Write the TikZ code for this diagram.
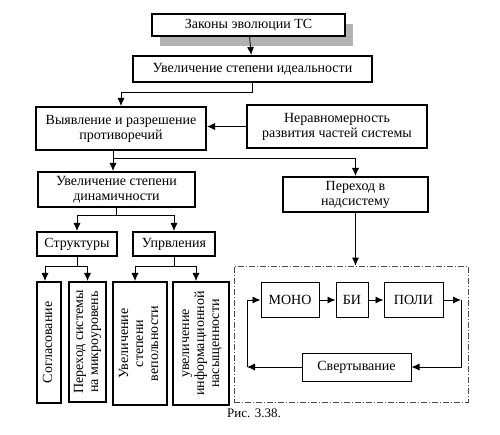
\documentclass[tikz,border=0pt]{standalone}
\usepackage{fontspec}
\setmainfont{Liberation Serif}
\usetikzlibrary{arrows.meta, positioning, shadows}

\newcommand{\vtext}[1]{\rotatebox{90}{\begin{tabular}{@{}c@{}}#1\end{tabular}}}

\begin{document}
\begin{tikzpicture}[
  x=1pt, y=-1pt,
  >={Latex[length=8pt,width=7pt]},
  font=\fontsize{14}{15}\selectfont,
  every path/.style={line width=0.8pt},
  block/.style={
    rectangle, draw, line width=2pt, fill=white,
    align=center, inner sep=1pt,
    drop shadow={shadow xshift=1.2pt, shadow yshift=-1.2pt, fill=black, opacity=1}
  },
  topbox/.style={
    block,
    drop shadow={shadow xshift=8pt, shadow yshift=-10pt, fill=gray!60, opacity=1}
  },
  vbox/.style={block, inner sep=0pt},
  stage/.style={rectangle, draw, line width=1pt, align=center,
    minimum height=34pt},
  frame/.style={draw=black!70, line width=0.6pt,
    dash pattern=on 6pt off 2pt on 1pt off 2pt},
]

\useasboundingbox (0,0) rectangle (500,435);

% --- Top chain ---
\node[topbox, minimum width=193pt, minimum height=22pt] (LAW) at (248.5,25) {Законы эволюции ТС};
\node[block, minimum width=239pt, minimum height=26pt] (IDEAL) at (252.5,69) {Увеличение степени идеальности};

% --- Contradictions ---
\node[block, minimum width=170pt, minimum height=43pt] (CONTRA) at (121,128.5) {Выявление и разрешение\\ противоречий};
\node[block, minimum width=180pt, minimum height=43pt] (UNEVEN) at (337,126.5) {Неравномерность\\ развития частей системы};

% --- Second level ---
\node[block, minimum width=157pt, minimum height=35pt] (DYN) at (116.5,189.5) {Увеличение степени\\ динамичности};
\node[block, minimum width=145pt, minimum height=35pt] (SUPER) at (355.5,194.5) {Переход в\\ надсистему};

\node[block, minimum width=80pt, minimum height=24pt] (STRUCT) at (77,244) {Структуры};
\node[block, minimum width=82pt, minimum height=24pt] (CTRL) at (174,244) {Упрвления};

% --- Vertical boxes ---
\node[vbox, minimum width=24pt, minimum height=121pt] (AGREE) at (49,342.5) {\vtext{Согласование}};
\node[vbox, minimum width=37pt, minimum height=120pt] (MICRO) at (87.5,342) {\vtext{Переход системы\\ на микроуровень}};
\node[vbox, minimum width=54pt, minimum height=123pt] (VEPOL) at (140,343.5) {\vtext{Увеличение\\ степени\\ вепольности}};
\node[vbox, minimum width=56pt, minimum height=123pt] (INFO) at (201,343.5) {\vtext{увеличение\\ информационной\\ насыщенности}};

% --- Mono-bi-poly frame ---
\node[frame, minimum width=234pt, minimum height=136pt] (FRAME) at (351,334) {};
\node[stage, minimum width=58pt] (MONO) at (290,300) {МОНО};
\node[stage, minimum width=32pt] (BI) at (352,300) {БИ};
\node[stage, minimum width=59pt] (POLY) at (413.5,300) {ПОЛИ};
\node[stage, minimum width=109pt, minimum height=28pt] (FOLD) at (356.5,367) {Свертывание};

\coordinate (RTOP) at (461,300);
\coordinate (LBOT) at (247,367);

\node (CAP) at (254,413) {\fontsize{13}{14}\selectfont Рис. 3.38.};

% --- Arrows ---
\draw[->] (LAW) -- (IDEAL);
\draw[->] (IDEAL.south) -- ++(0,9) -| (CONTRA.north);
\draw[->] (UNEVEN.west) -- (UNEVEN.west -| CONTRA.east);

\coordinate (SPLIT) at (113,158);
\draw (SPLIT |- CONTRA.south) -- (SPLIT);
\draw[->] (SPLIT) -- (SPLIT |- DYN.north);
\draw[->] (SPLIT) -| (SUPER.north);

\draw[->] (DYN.south) -- ++(0,7) -| (STRUCT.north);
\draw[->] (DYN.south) -- ++(0,7) -| (CTRL.north);

\draw[->] (STRUCT.south) -- ++(0,9) -| ([xshift=-4pt]AGREE.north);
\draw[->] (STRUCT.south) -- ++(0,9) -| (MICRO.north);
\draw[->] (CTRL.south) -- ++(0,9) -| ([xshift=-5pt]VEPOL.north);
\draw[->] (CTRL.south) -- ++(0,9) -| ([xshift=-5pt]INFO.north);

\draw[->] (SUPER.south) -- (SUPER.south |- FRAME.north);

\draw[->] (MONO) -- (BI);
\draw[->] (BI) -- (POLY);
\draw[->] (POLY) -- (RTOP);
\draw[->] (RTOP) |- (FOLD.east);
\draw[->] (FOLD.west) -- (LBOT);
\draw[->] (LBOT) |- (MONO.west);

\end{tikzpicture}
\end{document}
